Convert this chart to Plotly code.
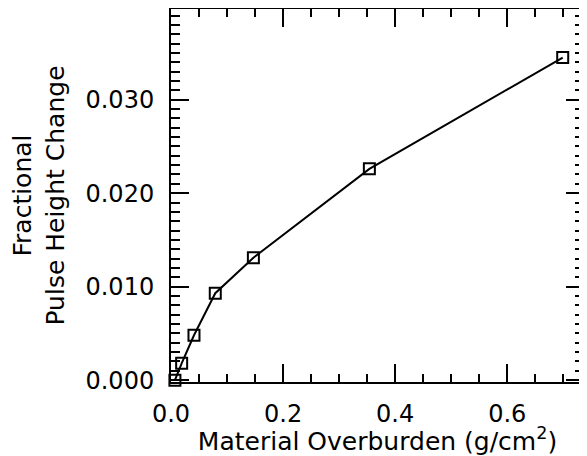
import plotly.graph_objects as go

overburden = [0.007, 0.019, 0.041, 0.079, 0.147, 0.354, 0.699]
pulse_change = [0.0000, 0.0018, 0.0048, 0.0093, 0.0131, 0.0226, 0.0345]

x_ticks = [0.0, 0.2, 0.4, 0.6]
x_labels = ["0.0", "0.2", "0.4", "0.6"]
y_ticks = [0.000, 0.010, 0.020, 0.030]
y_labels = ["0.000", "0.010", "0.020", "0.030"]
x_minor = [round(0.05 * i, 3) for i in range(15)]
y_minor = [round(0.001 * i, 4) for i in range(40)]

x_range = [0, 0.737]
y_range = [-0.0002, 0.0397]

fig = go.Figure()
fig.add_trace(go.Scatter(
    x=overburden, y=pulse_change, mode="lines+markers",
    line=dict(color="black", width=2),
    marker=dict(symbol="square-open", size=11, color="black", line=dict(width=2)),
    cliponaxis=False, hoverinfo="skip",
))
# transparent copy on the overlay axes that carry the minor ticks
fig.add_trace(go.Scatter(
    x=overburden, y=pulse_change, mode="markers", xaxis="x2", yaxis="y2",
    marker=dict(opacity=0), hoverinfo="skip",
))

tick_font = dict(family="DejaVu Sans", size=24, color="black")
title_font = dict(family="DejaVu Sans", size=25, color="black")
minor_common = dict(
    ticks="inside", tickwidth=1.5, tickcolor="black", showticklabels=False,
    showline=False, mirror="ticks", showgrid=False, zeroline=False, automargin=False,
)
major_common = dict(
    tickfont=tick_font, tickmode="array",
    ticks="inside", ticklen=18, tickwidth=1.5, tickcolor="black",
    showline=True, linecolor="black", linewidth=2, mirror="ticks",
    showgrid=False, zeroline=False, automargin=False,
)
fig.update_layout(
    width=579, height=448,
    margin=dict(l=163, r=3, t=1, b=74),
    paper_bgcolor="white", plot_bgcolor="white",
    showlegend=False,
    font=tick_font,
    xaxis=dict(range=x_range, tickvals=x_ticks, ticktext=x_labels, ticklabelstandoff=9,
               title=dict(text="Material Overburden (g/cm<sup>2</sup>)", font=title_font, standoff=10),
               **major_common),
    yaxis=dict(range=y_range, tickvals=y_ticks, ticktext=y_labels, ticklabelstandoff=10,
               title=dict(text="Fractional<br>Pulse Height Change", font=title_font, standoff=26),
               **major_common),
    xaxis2=dict(overlaying="x", anchor="y2", range=x_range, tickmode="array",
                tickvals=x_minor, ticklen=8, **minor_common),
    yaxis2=dict(overlaying="y", anchor="x2", range=y_range, tickmode="array",
                tickvals=y_minor, ticklen=9, **minor_common),
)
fig.write_html("out.html")
